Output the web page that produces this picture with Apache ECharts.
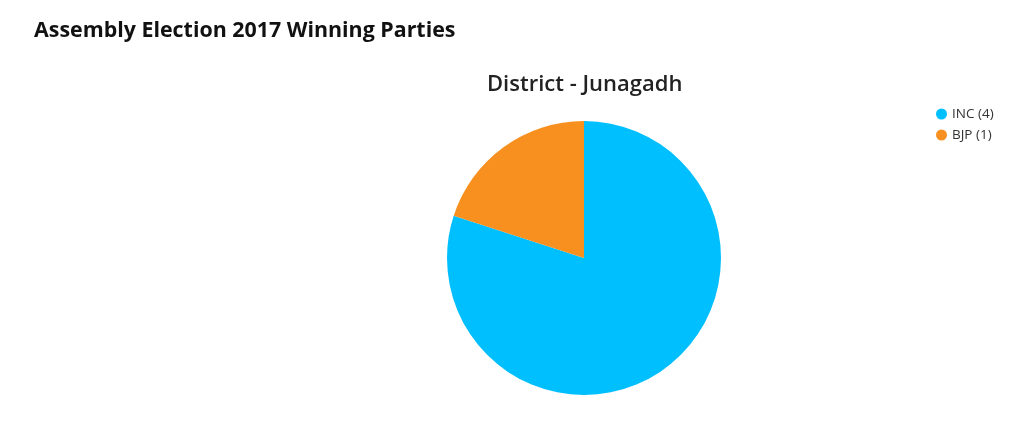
<!DOCTYPE html>
<html><head><meta charset="utf-8">
<script src="https://cdn.jsdelivr.net/npm/echarts@6/dist/echarts.min.js"></script>
<style>html,body{margin:0;padding:0;background:#fff}#c{width:1024px;height:426px}</style>
</head><body><div id="c"></div>
<script>
const parties = ['INC', 'BJP'];
const seats = [4, 1];
const colors = ['#00BFFF', '#F7901E'];

const chart = echarts.init(document.getElementById('c'));
chart.setOption({
  animation: false,
  title: [
    { text: 'Assembly Election 2017 Winning Parties', left: 29, top: 15,
      textStyle: { fontFamily: 'Open Sans', fontWeight: 'bold', fontSize: 21.4, color: '#111' } },
    { text: 'District - Junagadh', left: 482, top: 69,
      textStyle: { fontFamily: 'Open Sans', fontWeight: 600, fontSize: 22, color: '#222' } }
  ],
  legend: {
    orient: 'vertical', left: 931, top: 102,
    icon: 'circle', itemWidth: 11, itemHeight: 11, itemGap: 7,
    textStyle: { fontFamily: 'Open Sans', fontSize: 13.5, color: '#333' },
    formatter: name => name + ' (' + seats[parties.indexOf(name)] + ')'
  },
  series: [{
    type: 'pie', center: [584, 258], radius: 137, startAngle: 90, clockwise: true,
    label: { show: false }, labelLine: { show: false },
    itemStyle: { borderWidth: 0 },
    data: parties.map((p, i) => ({ name: p, value: seats[i], itemStyle: { color: colors[i] } }))
  }]
});
</script></body></html>
